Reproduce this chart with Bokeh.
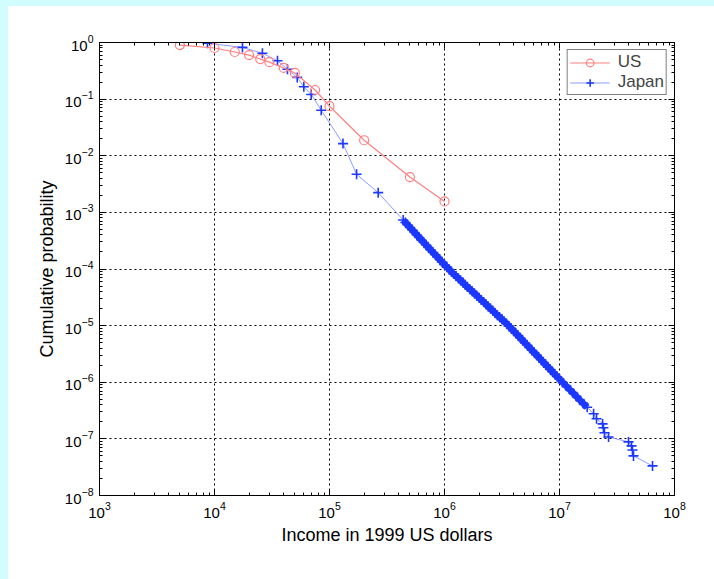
from bokeh.plotting import figure
from bokeh.models import Range1d, FixedTicker, LogAxis, CustomJSTickFormatter, Legend, LegendItem
from bokeh.embed import file_html
from bokeh.resources import INLINE

# ---------------- data ----------------
us_income = [5000, 10000, 15000, 20000, 25000, 30000, 40000, 50000, 75000, 100000,
             200000, 500000, 1000000]
us_prob = [0.90, 0.80, 0.68, 0.60, 0.51, 0.45, 0.355, 0.29, 0.145, 0.075,
           0.0188, 0.0042, 0.00156]

japan_head_income = [8690, 17500, 26100, 35300, 43100, 52400, 59800, 69300, 84700,
                     131000, 172000, 265000]
japan_head_prob = [0.97, 0.82, 0.644, 0.476, 0.336, 0.242, 0.165, 0.121, 0.0638,
                   0.0164, 0.00471, 0.00223]

japan_band_income = [
    4.37e5, 4.57e5, 4.79e5, 5.01e5, 5.25e5, 5.50e5, 5.75e5, 6.03e5, 6.31e5, 6.61e5,
    6.92e5, 7.24e5, 7.59e5, 7.94e5, 8.32e5, 8.71e5, 9.12e5, 9.55e5, 1.00e6, 1.05e6,
    1.10e6, 1.15e6, 1.20e6, 1.26e6, 1.32e6, 1.38e6, 1.45e6, 1.51e6, 1.58e6, 1.66e6,
    1.74e6, 1.82e6, 1.91e6, 2.00e6, 2.09e6, 2.19e6, 2.29e6, 2.40e6, 2.51e6, 2.63e6,
    2.75e6, 2.88e6, 3.02e6, 3.16e6, 3.31e6, 3.47e6, 3.63e6, 3.80e6, 3.98e6, 4.17e6,
    4.37e6, 4.57e6, 4.79e6, 5.01e6, 5.25e6, 5.50e6, 5.75e6, 6.03e6, 6.31e6, 6.61e6,
    6.92e6, 7.24e6, 7.59e6, 7.94e6, 8.32e6, 8.71e6, 9.12e6, 9.55e6, 1.00e7,
    1.07e7, 1.15e7, 1.23e7, 1.32e7, 1.41e7, 1.51e7, 1.62e7, 1.74e7]
japan_band_prob = [
    7.33e-4, 6.62e-4, 5.98e-4, 5.40e-4, 4.88e-4, 4.41e-4, 3.98e-4, 3.60e-4, 3.24e-4, 2.93e-4,
    2.65e-4, 2.40e-4, 2.17e-4, 1.96e-4, 1.78e-4, 1.61e-4, 1.46e-4, 1.32e-4, 1.19e-4, 1.08e-4,
    9.78e-5, 8.95e-5, 8.19e-5, 7.50e-5, 6.86e-5, 6.28e-5, 5.75e-5, 5.26e-5, 4.82e-5, 4.41e-5,
    4.04e-5, 3.70e-5, 3.38e-5, 3.10e-5, 2.84e-5, 2.61e-5, 2.38e-5, 2.18e-5, 2.00e-5, 1.83e-5,
    1.67e-5, 1.53e-5, 1.40e-5, 1.29e-5, 1.18e-5, 1.08e-5, 9.86e-6, 8.93e-6, 8.09e-6, 7.33e-6,
    6.65e-6, 6.03e-6, 5.46e-6, 4.94e-6, 4.49e-6, 4.06e-6, 3.68e-6, 3.34e-6, 3.03e-6, 2.74e-6,
    2.49e-6, 2.25e-6, 2.04e-6, 1.85e-6, 1.68e-6, 1.52e-6, 1.38e-6, 1.25e-6, 1.14e-6,
    9.82e-7, 8.51e-7, 7.38e-7, 6.40e-7, 5.55e-7, 4.81e-7, 4.16e-7, 3.61e-7]

japan_tail_income = [1.98e7, 2.10e7, 2.37e7, 2.41e7, 2.46e7, 2.67e7, 3.98e7, 4.23e7,
                     4.31e7, 4.40e7, 6.44e7]
japan_tail_prob = [2.77e-7, 2.26e-7, 1.84e-7, 1.57e-7, 1.28e-7, 1.08e-7, 8.85e-8, 7.52e-8,
                   6.38e-8, 5.0e-8, 3.33e-8]

japan_income = japan_head_income + japan_band_income + japan_tail_income
japan_prob = japan_head_prob + japan_band_prob + japan_tail_prob

x_decades = [1e3, 1e4, 1e5, 1e6, 1e7, 1e8]
y_decades = [1e-8, 1e-7, 1e-6, 1e-5, 1e-4, 1e-3, 1e-2, 1e-1, 1e0]

FONT = "Liberation Sans"
US_COLOR = "#ff8080"
JP_LINE = "#8d9cff"
JP_MARK = "#1c38ff"
CYAN = "#d2fdff"

x_minor = [m * d for d in x_decades[:-1] for m in range(2, 10)]
y_minor = [m * d for d in y_decades[:-1] for m in range(2, 10)]

p = figure(width=714, height=579, x_axis_type="log", y_axis_type="log",
           x_range=Range1d(1e3, 1e8), y_range=Range1d(1e-8, 1.0),
           output_backend="svg", toolbar_location=None,
           min_border_left=99, min_border_right=40, min_border_top=42, min_border_bottom=84)
p.background_fill_color = "white"
p.border_fill_color = "white"
p.outline_line_color = "black"
p.outline_line_width = 1

xt = FixedTicker(ticks=x_decades, minor_ticks=x_minor)
yt = FixedTicker(ticks=y_decades, minor_ticks=y_minor)

for ax, t in ((p.xaxis[0], xt), (p.yaxis[0], yt)):
    ax.ticker = t
    ax.major_tick_in = 6
    ax.major_tick_out = 0
    ax.minor_tick_in = 3
    ax.minor_tick_out = 0
    ax.axis_line_color = "black"
    ax.major_label_text_font = FONT
    ax.major_label_text_font_size = "15px"
    ax.major_label_text_color = "black"
    ax.axis_label_text_font = FONT
    ax.axis_label_text_font_size = "18px"
    ax.axis_label_text_font_style = "normal"
    ax.axis_label_text_color = "black"

p.xaxis.axis_label = "Income in 1999 US dollars"
p.yaxis.axis_label = "Cumulative probability"
p.xaxis.major_label_standoff = 6
p.yaxis.major_label_standoff = 6
p.xaxis.axis_label_standoff = 4
p.yaxis.axis_label_standoff = 5

blank = CustomJSTickFormatter(code="return ''")
for loc, t in (("right", yt), ("above", xt)):
    a = LogAxis(ticker=t, formatter=blank, major_tick_in=6, major_tick_out=0,
                minor_tick_in=3, minor_tick_out=0, axis_line_color="black",
                major_label_standoff=0)
    p.add_layout(a, loc)

for g in (p.xgrid[0], p.ygrid[0]):
    g.grid_line_color = "black"
    g.grid_line_dash = "2 3"
    g.grid_line_alpha = 1.0
p.xgrid[0].ticker = xt
p.ygrid[0].ticker = yt

jl = p.line(japan_income, japan_prob, line_color=JP_LINE, line_width=1)
p.line(japan_band_income, japan_band_prob, line_color=JP_MARK, line_width=6.5)
jm = p.scatter(japan_income, japan_prob, marker="cross", size=10, line_color=JP_MARK,
               line_width=1.6)
ul = p.line(us_income, us_prob, line_color=US_COLOR, line_width=1.2)
um = p.scatter(us_income, us_prob, marker="circle", size=9, fill_color=None,
               line_color=US_COLOR, line_width=1.2)

legend = Legend(items=[LegendItem(label="US", renderers=[ul, um]),
                       LegendItem(label="Japan", renderers=[jl, jm])],
                location="top_right", margin=7, padding=2, spacing=0,
                glyph_width=40, glyph_height=19, label_height=19, label_standoff=8,
                label_text_font=FONT, label_text_font_size="17px",
                border_line_color="black", border_line_width=1,
                background_fill_color="white", background_fill_alpha=1)
p.add_layout(legend)

html = file_html(p, INLINE)
strips = (
    f'<div style="position:fixed;left:0;top:0;width:8px;height:100%;background:{CYAN};z-index:10;"></div>'
    f'<div style="position:fixed;left:0;top:0;width:100%;height:6px;background:{CYAN};z-index:10;"></div>'
)
html = html.replace(
    "</head>",
    "<style>html, body { background-color: #ffffff; margin: 0; padding: 0; overflow: hidden; }"
    "</style>\n</head>", 1)
html = html.replace("</body>", strips + "\n</body>", 1)
open("out.html", "w").write(html)
